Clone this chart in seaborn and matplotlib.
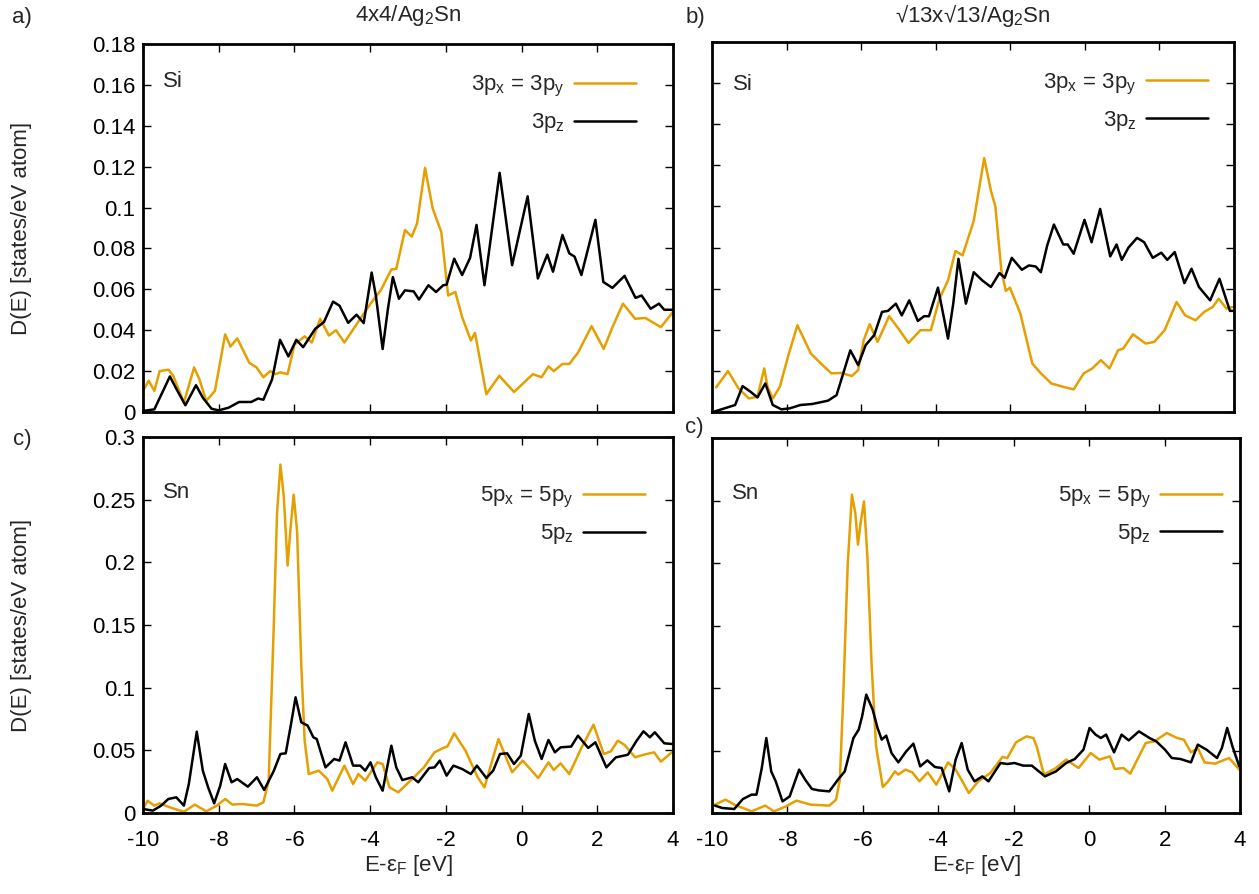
import numpy as np
import pandas as pd
import matplotlib
matplotlib.use("Agg")
import matplotlib.pyplot as plt
import seaborn as sns

# ---------------- data ----------------
# Panel a: 4x4/Ag2Sn, Si
a_xy_E = [-10, -9.85, -9.70, -9.56, -9.33, -9.2, -8.92, -8.65, -8.51, -8.33, -8.10, -7.83, -7.69, -7.51,
          -7.19, -7.0, -6.82, -6.64, -6.50, -6.37, -6.18, -6.0, -5.73, -5.54, -5.32, -5.09, -4.90, -4.68,
          -4.26, -3.99, -3.72, -3.44, -3.31, -3.08, -2.9, -2.76, -2.55, -2.35, -2.12, -1.94, -1.75, -1.57,
          -1.34, -1.23, -0.93, -0.59, -0.20, 0.30, 0.53, 0.71, 0.85, 1.08, 1.26, 1.49, 1.85, 2.17, 2.40,
          2.68, 3.0, 3.27, 3.68, 4.0]
a_xy_D = [0.0103, 0.0153, 0.0103, 0.020, 0.0207, 0.0177, 0.0046, 0.0218, 0.016, 0.0054, 0.0103, 0.038,
          0.032, 0.036, 0.024, 0.0218, 0.017, 0.020, 0.0185, 0.0194, 0.0185, 0.033, 0.037, 0.034, 0.0456,
          0.0374, 0.040, 0.034, 0.0456, 0.053, 0.0595, 0.0697, 0.070, 0.089, 0.0858, 0.0923, 0.1194,
          0.0997, 0.088, 0.057, 0.0587, 0.0464, 0.035, 0.0387, 0.0087, 0.0177, 0.0098, 0.0185, 0.017,
          0.0223, 0.020, 0.0235, 0.0235, 0.029, 0.042, 0.0308, 0.0415, 0.053, 0.0456, 0.046, 0.0415, 0.049]
a_z_E = [-10, -9.7, -9.29, -9.11, -8.88, -8.60, -8.42, -8.19, -8.0, -7.74, -7.46, -7.14, -6.96, -6.82,
         -6.59, -6.38, -6.16, -5.95, -5.77, -5.45, -5.22, -4.98, -4.81, -4.58, -4.36, -4.17, -3.96, -3.85,
         -3.67, -3.53, -3.40, -3.24, -3.08, -2.85, -2.71, -2.46, -2.26, -2.07, -1.98, -1.78, -1.57, -1.36,
         -1.19, -0.98, -0.58, -0.25, -0.07, 0.16, 0.43, 0.68, 0.83, 1.08, 1.26, 1.40, 1.58, 1.95, 2.16,
         2.40, 2.72, 3.01, 3.17, 3.41, 3.63, 3.77, 4.0]
a_z_D = [0.0005, 0.0013, 0.0174, 0.011, 0.0033, 0.0131, 0.007, 0.0016, 0.0008, 0.0021, 0.0049, 0.0049,
         0.0066, 0.006, 0.016, 0.0353, 0.0272, 0.0353, 0.0317, 0.0407, 0.044, 0.054, 0.052, 0.0436, 0.0476,
         0.0435, 0.0682, 0.057, 0.0308, 0.0505, 0.066, 0.0554, 0.0595, 0.059, 0.055, 0.062, 0.0587, 0.062,
         0.0623, 0.075, 0.067, 0.0754, 0.0915, 0.062, 0.117, 0.0718, 0.0866, 0.1055, 0.0653, 0.077, 0.0686,
         0.0866, 0.0776, 0.076, 0.067, 0.094, 0.0636, 0.0607, 0.0666, 0.0558, 0.057, 0.0505, 0.053, 0.050,
         0.050]

# Panel b: sqrt13 x sqrt13/Ag2Sn, Si
b_xy_E = [-9.89, -9.57, -9.29, -9.01, -8.78, -8.60, -8.51, -8.37, -8.18, -7.95, -7.71, -7.35, -7.08, -6.80,
          -6.53, -6.25, -6.08, -5.93, -5.77, -5.56, -5.25, -5.0, -4.73, -4.41, -4.13, -3.90, -3.67, -3.47,
          -3.28, -2.98, -2.70, -2.52, -2.40, -2.24, -2.12, -2.01, -1.73, -1.41, -1.18, -0.90, -0.53, -0.30,
          -0.03, 0.20, 0.43, 0.66, 0.89, 1.03, 1.29, 1.63, 1.86, 2.14, 2.46, 2.69, 2.97, 3.20, 3.43, 3.59,
          3.80, 3.96]
b_xy_D = [0.012, 0.0199, 0.0115, 0.0066, 0.0074, 0.0212, 0.0123, 0.0066, 0.0123, 0.0277, 0.0422, 0.0285,
          0.0236, 0.0188, 0.019, 0.0175, 0.0204, 0.035, 0.0427, 0.0341, 0.0466, 0.0406, 0.0336, 0.0398,
          0.0398, 0.0551, 0.064, 0.0783, 0.0762, 0.093, 0.1235, 0.1077, 0.10, 0.0689, 0.0589, 0.0605,
          0.0479, 0.0236, 0.0188, 0.0139, 0.012, 0.011, 0.0188, 0.0212, 0.0252, 0.0212, 0.030, 0.0309,
          0.0378, 0.0333, 0.0341, 0.0398, 0.0535, 0.047, 0.0446, 0.0487, 0.0511, 0.0551, 0.0503, 0.0511]
b_z_E = [-9.94, -9.66, -9.38, -9.18, -8.97, -8.78, -8.57, -8.37, -8.14, -7.91, -7.63, -7.31, -6.89, -6.66,
         -6.48, -6.29, -6.08, -5.88, -5.65, -5.44, -5.28, -5.07, -4.91, -4.71, -4.48, -4.31, -4.18, -3.94,
         -3.67, -3.53, -3.39, -3.19, -2.98, -2.75, -2.52, -2.29, -2.15, -1.96, -1.69, -1.50, -1.32, -1.18,
         -1.01, -0.83, -0.58, -0.46, -0.30, -0.01, 0.18, 0.41, 0.68, 0.85, 0.99, 1.17, 1.40, 1.59, 1.82,
         2.05, 2.21, 2.41, 2.67, 2.86, 3.06, 3.36, 3.61, 3.89, 3.96]
b_z_D = [0.0002, 0.0018, 0.0034, 0.0126, 0.0099, 0.0071, 0.0139, 0.0034, 0.0013, 0.0018, 0.0034, 0.0039,
         0.0055, 0.0082, 0.0188, 0.030, 0.0228, 0.0325, 0.0374, 0.0487, 0.0492, 0.0527, 0.047, 0.0543,
         0.0443, 0.0466, 0.0466, 0.0605, 0.0357, 0.0527, 0.0745, 0.0527, 0.068, 0.064, 0.0608, 0.0676,
         0.0653, 0.075, 0.0692, 0.0713, 0.0708, 0.068, 0.081, 0.0912, 0.0815, 0.0815, 0.077, 0.0935,
         0.0826, 0.0988, 0.0757, 0.0815, 0.074, 0.080, 0.0847, 0.0826, 0.075, 0.0775, 0.074, 0.0778,
         0.0627, 0.0697, 0.0608, 0.0543, 0.0648, 0.0492, 0.0492]

# Panel c: 4x4/Ag2Sn, Sn
c_xy_E = [-10, -9.88, -9.70, -9.56, -9.29, -8.92, -8.63, -8.33, -8.05, -7.83, -7.64, -7.37, -7.0, -6.82,
          -6.68, -6.55, -6.46, -6.37, -6.28, -6.18, -6.11, -6.02, -5.93, -5.82, -5.73, -5.62, -5.36, -5.13,
          -5.0, -4.68, -4.45, -4.31, -4.13, -3.81, -3.67, -3.49, -3.26, -3.03, -2.80, -2.58, -2.30, -2.07,
          -1.96, -1.78, -1.48, -1.16, -0.98, -0.61, -0.25, 0.03, 0.44, 0.71, 0.85, 1.03, 1.26, 1.58, 1.90,
          2.17, 2.36, 2.54, 2.72, 3.0, 3.22, 3.50, 3.68, 4.0]
c_xy_D = [0.0032, 0.0098, 0.0059, 0.0077, 0.0045, 0.001, 0.0067, 0.0013, 0.0059, 0.0112, 0.0067, 0.0072,
          0.0059, 0.0085, 0.0258, 0.1455, 0.2386, 0.278, 0.252, 0.1974, 0.225, 0.254, 0.225, 0.119, 0.0577,
          0.0311, 0.0338, 0.0271, 0.0178, 0.0378, 0.0231, 0.0311, 0.0258, 0.0404, 0.0391, 0.0205, 0.0165,
          0.0231, 0.0298, 0.0364, 0.0484, 0.0519, 0.053, 0.0636, 0.0497, 0.0285, 0.0205, 0.059, 0.0325,
          0.0418, 0.0279, 0.0404, 0.0343, 0.0396, 0.0311, 0.0519, 0.0705, 0.0471, 0.0492, 0.0577, 0.0543,
          0.0444, 0.0465, 0.0484, 0.041, 0.0492]
c_z_E = [-10, -9.74, -9.52, -9.33, -9.12, -8.92, -8.79, -8.58, -8.42, -8.28, -8.12, -7.96, -7.83, -7.66,
         -7.51, -7.23, -6.99, -6.80, -6.55, -6.37, -6.23, -6.09, -5.97, -5.82, -5.65, -5.50, -5.41, -5.18,
         -4.95, -4.81, -4.65, -4.45, -4.26, -4.13, -3.99, -3.85, -3.67, -3.44, -3.31, -3.15, -2.89, -2.73,
         -2.44, -2.30, -2.16, -1.98, -1.80, -1.57, -1.34, -1.18, -0.93, -0.75, -0.57, -0.38, -0.20, -0.02,
         0.19, 0.35, 0.53, 0.71, 0.88, 1.03, 1.31, 1.49, 1.76, 1.95, 2.24, 2.49, 2.81, 3.04, 3.22, 3.39,
         3.52, 3.77, 4.0]
c_z_D = [0.0032, 0.0019, 0.0059, 0.0112, 0.0125, 0.0059, 0.0231, 0.0649, 0.0338, 0.0205, 0.0077, 0.0218,
         0.0391, 0.0245, 0.0271, 0.021, 0.0285, 0.0184, 0.0333, 0.0471, 0.0476, 0.071, 0.0923, 0.0724,
         0.0697, 0.0604, 0.059, 0.0364, 0.0431, 0.0418, 0.0564, 0.0378, 0.0378, 0.0338, 0.0404, 0.0285,
         0.0178, 0.0537, 0.0364, 0.0263, 0.0285, 0.0245, 0.0359, 0.0364, 0.0418, 0.0298, 0.0378, 0.0351,
         0.0311, 0.0378, 0.0279, 0.0338, 0.0471, 0.0476, 0.0391, 0.0458, 0.079, 0.0577, 0.0431, 0.0583,
         0.0484, 0.0524, 0.053, 0.0617, 0.0519, 0.0564, 0.0364, 0.0444, 0.0465, 0.0577, 0.0652, 0.0604,
         0.0644, 0.0556, 0.055]

# Panel d: sqrt13 x sqrt13/Ag2Sn, Sn
d_xy_E = [-9.92, -9.64, -9.41, -8.95, -8.59, -8.36, -8.04, -7.76, -7.39, -6.89, -6.71, -6.61, -6.52, -6.40,
          -6.29, -6.20, -6.13, -6.06, -5.97, -5.88, -5.77, -5.65, -5.47, -5.33, -5.15, -5.06, -4.87, -4.69,
          -4.50, -4.28, -4.05, -3.74, -3.54, -3.36, -3.19, -2.94, -2.62, -2.30, -2.17, -1.94, -1.66, -1.48,
          -1.39, -1.20, -0.88, -0.61, -0.28, 0.04, 0.27, 0.55, 0.68, 0.91, 1.09, 1.50, 1.73, 2.06, 2.33,
          2.51, 2.70, 2.88, 3.06, 3.34, 3.71, 3.98]
d_xy_D = [0.0067, 0.0107, 0.0067, 0.0013, 0.0059, 0.0013, 0.0053, 0.0099, 0.0067, 0.0059, 0.0107, 0.0267,
          0.0933, 0.20, 0.2547, 0.24, 0.2147, 0.232, 0.2493, 0.2053, 0.12, 0.0533, 0.0208, 0.0253, 0.0333,
          0.0307, 0.0347, 0.0325, 0.0253, 0.0325, 0.0227, 0.0405, 0.0347, 0.0253, 0.016, 0.0253, 0.032,
          0.0448, 0.044, 0.0565, 0.0613, 0.06, 0.0533, 0.0307, 0.036, 0.0427, 0.036, 0.048, 0.0427, 0.0453,
          0.0352, 0.036, 0.0315, 0.056, 0.0573, 0.064, 0.06, 0.0587, 0.0485, 0.052, 0.0405, 0.0395, 0.044,
          0.0347]
d_z_E = [-9.92, -9.73, -9.41, -9.18, -8.95, -8.82, -8.68, -8.56, -8.43, -8.31, -8.13, -7.94, -7.69, -7.53,
         -7.35, -7.17, -6.89, -6.66, -6.48, -6.25, -6.11, -6.02, -5.91, -5.74, -5.61, -5.50, -5.38, -5.24,
         -5.06, -4.85, -4.66, -4.48, -4.29, -4.09, -3.91, -3.71, -3.54, -3.38, -3.22, -3.04, -2.83, -2.67,
         -2.35, -2.17, -1.98, -1.75, -1.52, -1.17, -0.88, -0.61, -0.38, -0.15, 0.01, 0.17, 0.31, 0.45, 0.66,
         0.86, 1.05, 1.32, 1.60, 1.78, 2.01, 2.19, 2.42, 2.70, 2.88, 3.11, 3.39, 3.52, 3.66, 3.80, 3.98]
d_z_D = [0.0059, 0.004, 0.0032, 0.0112, 0.0147, 0.0147, 0.036, 0.06, 0.0333, 0.0253, 0.0093, 0.0133,
         0.0347, 0.0267, 0.0192, 0.0181, 0.0173, 0.0267, 0.0333, 0.06, 0.0667, 0.0773, 0.0947, 0.0827,
         0.068, 0.0587, 0.0619, 0.048, 0.0405, 0.0493, 0.0555, 0.0373, 0.0421, 0.0368, 0.036, 0.0173,
         0.0427, 0.056, 0.0347, 0.0253, 0.0293, 0.0253, 0.04, 0.0392, 0.04, 0.0379, 0.0379, 0.0293, 0.0333,
         0.04, 0.0432, 0.0507, 0.068, 0.0627, 0.06, 0.0627, 0.0485, 0.0627, 0.0581, 0.0653, 0.06, 0.0573,
         0.0507, 0.044, 0.0432, 0.0405, 0.0547, 0.0507, 0.044, 0.052, 0.068, 0.0533, 0.0373]

titles = ["4x4/Ag$_2$Sn", "√13x√13/Ag$_2$Sn"]
panel_labels = ["a)", "b)", "c)", "c)"]
atoms = ["Si", "Si", "Sn", "Sn"]
si_labels = ["3p$_x$ = 3p$_y$", "3p$_z$"]
sn_labels = ["5p$_x$ = 5p$_y$", "5p$_z$"]
x_ticks = [-10, -8, -6, -4, -2, 0, 2, 4]
y_ticks_si = [0, 0.02, 0.04, 0.06, 0.08, 0.1, 0.12, 0.14, 0.16, 0.18]
y_tick_labels_si = ["0", "0.02", "0.04", "0.06", "0.08", "0.1", "0.12", "0.14", "0.16", "0.18"]
y_ticks_sn = [0, 0.05, 0.1, 0.15, 0.2, 0.25, 0.3]
y_tick_labels_sn = ["0", "0.05", "0.1", "0.15", "0.2", "0.25", "0.3"]
ylabel = "D(E) [states/eV atom]"
xlabel = "E-ε$_F$ [eV]"

ORANGE = "#E69F00"
BLACK = "#000000"

# ---------------- style ----------------
sns.set_style("ticks")
plt.rcParams["font.family"] = ["Liberation Sans", "DejaVu Sans"]
plt.rcParams["mathtext.default"] = "regular"
plt.rcParams["axes.linewidth"] = 2.0
FS = 16

W, H = 1259, 894
fig = plt.figure(figsize=(W / 100, H / 100), dpi=100)

def px_axes(x0, y0, x1, y1):
    return fig.add_axes([x0 / W, 1 - y1 / H, (x1 - x0) / W, (y1 - y0) / H])

ax_a = px_axes(143, 44, 673, 412)
ax_b = px_axes(712, 42, 1234, 412)
ax_c = px_axes(143, 437, 673, 813)
ax_d = px_axes(712, 438, 1240, 813)
axes = [ax_a, ax_b, ax_c, ax_d]

series = [
    (a_xy_E, a_xy_D, a_z_E, a_z_D, si_labels),
    (b_xy_E, b_xy_D, b_z_E, b_z_D, si_labels),
    (c_xy_E, c_xy_D, c_z_E, c_z_D, sn_labels),
    (d_xy_E, d_xy_D, d_z_E, d_z_D, sn_labels),
]
legend_anchor = [(0.930, 0.918), (0.950, 0.920), (0.947, 0.872), (0.966, 0.875)]
atom_pos = [(0.038, 0.898), (0.040, 0.885), (0.038, 0.853), (0.038, 0.853)]

for i, (ax, (exy, dxy, ez, dz, labs)) in enumerate(zip(axes, series)):
    df_xy = pd.DataFrame({"E": exy, "D": dxy})
    df_z = pd.DataFrame({"E": ez, "D": dz})
    sns.lineplot(data=df_xy, x="E", y="D", ax=ax, color=ORANGE, lw=1.8,
                 estimator=None, sort=False, label=labs[0])
    sns.lineplot(data=df_z, x="E", y="D", ax=ax, color=BLACK, lw=1.8,
                 estimator=None, sort=False, label=labs[1])
    ax.set_xlim(-10, 4)
    if i < 2:
        ax.set_ylim(0, 0.18)
        ax.set_yticks(y_ticks_si)
        ax.set_yticklabels(y_tick_labels_si)
    else:
        ax.set_ylim(0, 0.3)
        ax.set_yticks(y_ticks_sn)
        ax.set_yticklabels(y_tick_labels_sn)
    ax.set_xticks(x_ticks)
    ax.set_xticklabels([str(t) for t in x_ticks])
    ax.tick_params(direction="in", length=6, width=1.0, top=True, right=True,
                   labelsize=FS, colors="black")
    ax.tick_params(axis="x", pad=12)
    ax.tick_params(axis="y", pad=5.5)
    if i in (1, 3):
        ax.tick_params(labelleft=False)
    if i in (0, 1):
        ax.tick_params(labelbottom=False)
    ax.set_xlabel("")
    ax.set_ylabel("")
    for sp in ax.spines.values():
        sp.set_visible(True)
        sp.set_color("black")
        sp.set_linewidth(2.0)
    ax.legend(loc="upper right", bbox_to_anchor=legend_anchor[i], frameon=False,
              markerfirst=False, fontsize=FS, handlelength=2.8, handletextpad=0.4,
              labelspacing=0.55, borderpad=0, borderaxespad=0)
    ax.text(atom_pos[i][0], atom_pos[i][1], atoms[i], transform=ax.transAxes,
            fontsize=FS, ha="left", va="center")

# titles
fig.text(408 / W, 1 - 16 / H, titles[0], ha="center", va="center", fontsize=FS)
fig.text(973 / W, 1 - 16 / H, titles[1], ha="center", va="center", fontsize=FS)
# panel labels
fig.text(22 / W, 1 - 17 / H, panel_labels[0], ha="center", va="center", fontsize=FS)
fig.text(695 / W, 1 - 18 / H, panel_labels[1], ha="center", va="center", fontsize=FS)
fig.text(22 / W, 1 - 439 / H, panel_labels[2], ha="center", va="center", fontsize=FS)
fig.text(694 / W, 1 - 428 / H, panel_labels[3], ha="center", va="center", fontsize=FS)
# y labels
fig.text(22 / W, 1 - 228 / H, ylabel, rotation=90, ha="center", va="center", fontsize=FS)
fig.text(22 / W, 1 - 625 / H, ylabel, rotation=90, ha="center", va="center", fontsize=FS)
# x labels
fig.text(408 / W, 1 - 866 / H, xlabel, ha="center", va="center", fontsize=FS)
fig.text(976 / W, 1 - 866 / H, xlabel, ha="center", va="center", fontsize=FS)

fig.savefig("out.png", dpi=100, facecolor="white")
